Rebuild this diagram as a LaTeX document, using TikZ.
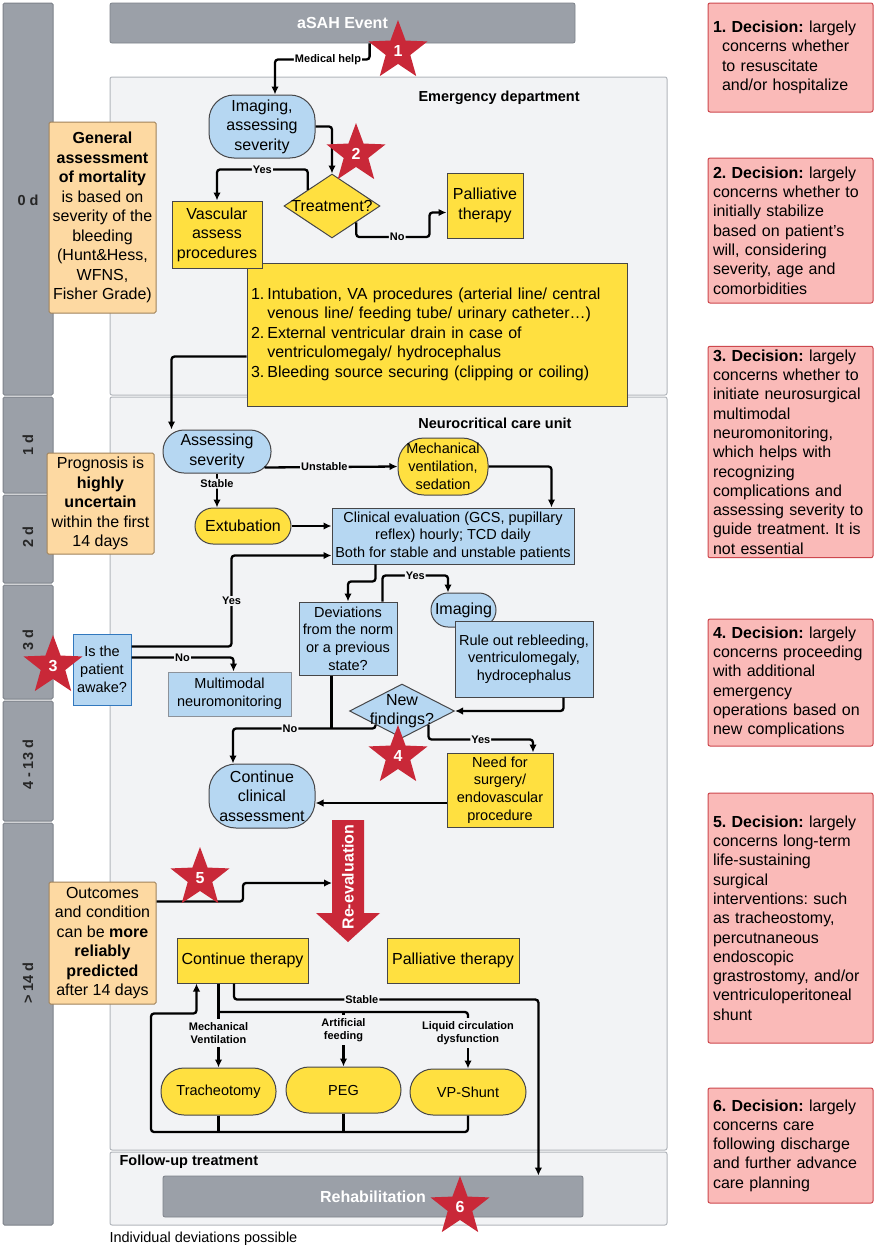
\documentclass[tikz,border=0pt]{standalone}
\usepackage{fontspec}
\setmainfont{Liberation Sans}
\usetikzlibrary{shapes.geometric, arrows.meta, calc, positioning}
\frenchspacing

\definecolor{barGray}{RGB}{155,160,168}
\definecolor{barLine}{RGB}{125,130,138}
\definecolor{panelFill}{RGB}{242,243,245}
\definecolor{panelLine}{RGB}{178,182,188}
\definecolor{boxBlue}{RGB}{182,215,242}
\definecolor{boxYellow}{RGB}{255,224,64}
\definecolor{boxOrange}{RGB}{253,217,162}
\definecolor{orangeLine}{RGB}{160,130,90}
\definecolor{boxPink}{RGB}{250,186,184}
\definecolor{pinkLine}{RGB}{205,72,78}
\definecolor{starRed}{RGB}{201,40,56}
\definecolor{edgeDark}{RGB}{70,70,72}
\definecolor{awakeLine}{RGB}{50,120,190}
\definecolor{multiLine}{RGB}{140,146,154}

\newcommand{\fntMain}{\fontsize{16}{19.5}\selectfont}
\newcommand{\fntSmall}{\fontsize{14.5}{17.7}\selectfont}
\newcommand{\fntLab}{\fontsize{11}{13}\selectfont\bfseries}
\newcommand{\fntHead}{\fontsize{14.5}{17}\selectfont\bfseries}
\newcommand{\fntBar}{\fontsize{16}{19}\selectfont\bfseries}
\newcommand{\fntDec}{\fontsize{16}{19.3}\selectfont}

\begin{document}
\begin{tikzpicture}[x=1pt, y=-1pt,
  conn/.style={line width=2.3pt, rounded corners=3pt},
  arr/.style={conn, -{Latex[length=8pt, width=7.5pt]}},
  lab/.style={font=\fntLab, fill=panelFill, inner sep=1pt},
  bluebox/.style={draw=edgeDark, fill=boxBlue, line width=1pt, align=center, font=\fntSmall, inner sep=1pt},
  yellowbox/.style={draw=edgeDark, fill=boxYellow, line width=1pt, align=center, font=\fntMain, inner sep=1pt},
  notebox/.style={draw=orangeLine, fill=boxOrange, line width=1pt, align=center, font=\fntMain, inner sep=1pt, rounded corners=1.5pt},
  decbox/.style={draw=pinkLine, fill=boxPink, line width=1pt, align=left, font=\fntDec, text width=155pt, inner xsep=5pt, minimum width=165pt, rounded corners=2pt},
  decision/.style={diamond, draw=edgeDark, line width=1pt, inner sep=0pt},
  decstar/.style={star, star points=5, star point ratio=2.4, fill=starRed, minimum size=62pt, inner sep=0pt, text=white, font=\fntBar},
  panel/.style={draw=panelLine, fill=panelFill, line width=1pt, rounded corners=2pt},
  graybar/.style={fill=barGray, draw=barLine, line width=0.8pt, rounded corners=2pt, text=white, font=\fntBar},
  dayseg/.style={fill=barGray, draw=barLine, line width=1pt, rounded corners=1.5pt},
  daylab/.style={font=\fntHead, text=black!85}]

\useasboundingbox (0,0) rectangle (878,1250);
\fill[white] (0,0) rectangle (878,1250);

% time line on the left
\foreach \ya/\yb in {3/395, 397/493, 495/583, 585/699, 701/821, 823/1225}
  \draw[dayseg] (3,\ya) rectangle (53,\yb);
\node[daylab] (t0) at (28,200) {0 d};
\node[daylab, rotate=90] (t1) at (28,445) {1 d};
\node[daylab, rotate=90] (t2) at (28,537) {2 d};
\node[daylab, rotate=90] (t3) at (28,640) {3 d};
\node[daylab, rotate=90] (t4) at (28,765) {4 - 13 d};
\node[daylab, rotate=90] (t5) at (28,983) {> 14 d};

% panels
\draw[panel] (110,77) rectangle (667,395);
\draw[panel] (110,397) rectangle (667,1150);
\draw[panel] (110,1152) rectangle (667,1225);
\node[font=\fntHead, anchor=west] (ed) at (415,98) {Emergency department};
\node[font=\fntHead] (ncu) at (495,423) {Neurocritical care unit};
\node[font=\fntHead, anchor=west] (fu) at (116,1162) {Follow-up treatment};
\node[font=\fntSmall, anchor=west] (note) at (106,1239) {Individual deviations possible};

\node[graybar, minimum width=465, minimum height=40] (asah) at (342.5,23) {aSAH Event};
\node[graybar, minimum width=420, minimum height=41] (rehab) at (373,1196.5) {Rehabilitation};

% emergency department
\node[bluebox, font=\fntMain, minimum width=106, minimum height=63, rounded corners=25pt] (img) at (262,126.5) {Imaging,\\assessing\\severity};
\node[decision, fill=boxYellow, minimum width=96, minimum height=64,
  label={[font=\fntMain]center:Treatment?}] (treat) at (332,206) {};
\node[yellowbox, minimum width=76, minimum height=65] (pall1) at (485,205.5) {Palliative\\therapy};
\node[yellowbox, text width=372, minimum height=143, align=left, inner sep=4pt] (list) at (437,334.5)
  {\begin{tabular}{@{}l@{\hspace{3pt}}l@{}}
   1.& Intubation, VA procedures (arterial line/ central\\
     & venous line/ feeding tube/ urinary catheter…)\\
   2.& External ventricular drain in case of\\
     & ventriculomegaly/ hydrocephalus\\
   3.& Bleeding source securing (clipping or coiling)
   \end{tabular}};
\node[yellowbox, minimum width=90, minimum height=67] (vasc) at (217,234.5) {Vascular\\assess\\procedures};
\node[notebox, minimum width=107, minimum height=191] (gen) at (102.5,217.5)
  {\textbf{General}\\\textbf{assessment}\\\textbf{of mortality}\\is based on\\severity of the\\bleeding\\(Hunt\&Hess,\\WFNS,\\Fisher Grade)};

% neurocritical care unit
\node[bluebox, font=\fntMain, minimum width=108, minimum height=43, rounded corners=21pt] (asev) at (217,451.5) {Assessing\\severity};
\node[yellowbox, font=\fntSmall, minimum width=90, minimum height=57, rounded corners=26pt] (mech) at (443,466.5) {Mechanical\\ventilation,\\sedation};
\node[yellowbox, minimum width=96, minimum height=36, rounded corners=18pt] (extu) at (243,526) {Extubation};
\node[bluebox, minimum width=242, minimum height=56] (clin) at (453,536)
  {Clinical evaluation (GCS, pupillary\\reflex) hourly; TCD daily\\Both for stable and unstable patients};
\node[notebox, minimum width=107, minimum height=101] (prog) at (100.5,503.5)
  {Prognosis is\\\textbf{highly}\\\textbf{uncertain}\\within the first\\14 days};
\node[bluebox, draw=awakeLine, minimum width=58, minimum height=71] (awake) at (102,669.5) {Is the\\patient\\awake?};
\node[bluebox, draw=multiLine, minimum width=123, minimum height=44] (multi) at (229.5,694) {Multimodal\\neuromonitoring};
\node[bluebox, minimum width=98, minimum height=73] (dev) at (348,638.5) {Deviations\\from the norm\\or a previous\\state?};
\node[bluebox, font=\fntMain, minimum width=65, minimum height=34, rounded corners=17pt] (img2) at (463.5,610) {Imaging};
\node[bluebox, minimum width=138, minimum height=76] (rule) at (524,659) {Rule out rebleeding,\\ventriculomegaly,\\hydrocephalus};
\node[decision, fill=boxBlue, minimum width=105, minimum height=54,
  label={[font=\fntMain, align=center]center:{New\\findings?}}] (newf) at (402,711) {};
\node[yellowbox, font=\fntSmall, minimum width=106, minimum height=74] (need) at (500,790) {Need for\\surgery/\\endovascular\\procedure};
\node[bluebox, font=\fntMain, minimum width=106, minimum height=64, rounded corners=27pt] (cont) at (262,796) {Continue\\clinical\\assessment};

% re-evaluation arrow
\fill[starRed] (332,820) -- (364,820) -- (364,913) -- (380,913) -- (348,942) -- (316,913) -- (332,913) -- cycle;
\node[rotate=90, text=white, font=\fntBar] (reeval) at (348,877) {Re-evaluation};
\coordinate (reevalin) at (332,883);

\node[notebox, minimum width=107, minimum height=122] (outc) at (102.5,943)
  {Outcomes\\and condition\\can be \textbf{more}\\\textbf{reliably}\\\textbf{predicted}\\after 14 days};
\node[yellowbox, minimum width=131, minimum height=45] (ctherapy) at (242.5,960.5) {Continue therapy};
\node[yellowbox, minimum width=132, minimum height=45] (pall2) at (453,960.5) {Palliative therapy};
\node[yellowbox, font=\fntSmall, minimum width=115, minimum height=47, rounded corners=23pt] (tracheo) at (218.5,1091.5) {Tracheotomy};
\node[yellowbox, font=\fntSmall, minimum width=115, minimum height=46, rounded corners=23pt] (peg) at (343.5,1090) {PEG};
\node[yellowbox, font=\fntSmall, minimum width=116, minimum height=46, rounded corners=23pt] (vp) at (468,1092) {VP-Shunt};
\node[font=\fntLab, align=center] (mvlab) at (218.5,1033) {Mechanical\\Ventilation};
\node[font=\fntLab, align=center] (aflab) at (343.5,1030) {Artificial\\feeding};
\node[font=\fntLab, align=center] (lclab) at (468,1033) {Liquid circulation\\dysfunction};
\coordinate (bustop) at (0,1012);
\coordinate (busbot) at (0,1132);
\coordinate (loopcorner) at (151,1132);

% decisions on the right
\node[decbox, minimum height=109] (dec1) at (790.5,57.5)
  {\textbf{1.\ Decision:} largely\\\hspace*{9pt}concerns whether\\\hspace*{9pt}to resuscitate\\\hspace*{9pt}and/or hospitalize};
\node[decbox, minimum height=145] (dec2) at (790.5,230.5)
  {\textbf{2. Decision:} largely\\concerns whether to\\initially stabilize\\based on patient's\\will, considering\\severity, age and\\comorbidities};
\node[decbox, minimum height=200] (dec3) at (790.5,452)
  {\textbf{3. Decision:} largely\\concerns whether to\\initiate neurosurgical\\multimodal\\neuromonitoring,\\which helps with\\recognizing\\complications and\\assessing severity to\\guide treatment. It is\\not essential};
\node[decbox, minimum height=127] (dec4) at (790.5,682.5)
  {\textbf{4. Decision:} largely\\concerns proceeding\\with additional\\emergency\\operations based on\\new complications};
\node[decbox, minimum height=250] (dec5) at (790.5,918)
  {\textbf{5. Decision:} largely\\concerns long-term\\life-sustaining\\surgical\\interventions: such\\as tracheostomy,\\percutnaneous\\endoscopic\\grastrostomy, and/or\\ventriculoperitoneal\\shunt};
\node[decbox, minimum height=115] (dec6) at (790.5,1145.5)
  {\textbf{6. Decision:} largely\\concerns care\\following discharge\\and further advance\\care planning};

% connectors
\draw[arr] ($(asah.south west)+(260,0)$) |- node[lab, fill=white, pos=0.72] {Medical help} ($(img.north)+(13,-35)$) -- ($(img.north)+(13,0)$);
\draw[arr] (img.east) -| (treat.north);
\draw[arr] (treat.north west) |- node[lab, pos=0.75] {Yes} ($(vasc.north)+(0,-31)$) -- (vasc.north);
\draw[arr] (treat.south east) |- node[lab, pos=0.78] {No} ($(pall1.west)+(-17,31.5)$) |- ($(pall1.west)+(0,7)$);
\draw[arr] ($(list.west)+(0,22)$) -| ($(asev.north west)+(9,0)$);
\draw[arr] ($(asev.south east)+(-7,-6)$) -- node[lab, pos=0.45] {Unstable} (mech.west);
\draw[arr] (asev.south) -- node[lab, pos=0.3] {Stable} (asev.south |- extu.north);
\draw[arr] (extu.east) -- (extu.east -| clin.west);
\draw[arr] (mech.east) -| ($(clin.north east)+(-23,0)$);
\draw[arr] ($(awake.north east)+(0,13)$) -| node[lab, pos=0.75] {Yes} ($(clin.south west)+(-100,-9)$) -- ($(clin.south west)+(0,-9)$);
\draw[arr] ($(awake.north east)+(0,24)$) -| node[lab, pos=0.25] {No} ($(multi.north)+(4,0)$);
\draw[arr] ($(clin.south west)+(44,0)$) |- ($(dev.north)+(0,-20)$) -- (dev.north);
\draw[arr] ($(dev.north east)+(-15,0)$) |- node[lab, pos=0.75] {Yes} ($(img2.north)+(-15.5,-17)$) -- ($(img2.north)+(-15.5,0)$);
\draw[arr] ($(rule.south east)+(-30,0)$) |- (newf.east);
\coordinate (nojoin) at ($(cont.north)+(-29,-35)$);
\draw[arr] (newf.south west) |- node[lab, pos=0.8] {No} (nojoin) -- ($(cont.north)+(-29,0)$);
\draw[conn] ($(dev.south west)+(33,0)$) coordinate (devout) -- (devout |- nojoin);
\draw[arr] (newf.south east) |- node[lab, pos=0.75] {Yes} ($(need.north)+(33,-13)$) -- ($(need.north)+(33,0)$);
\draw[arr] ($(need.west)+(0,13)$) coordinate (needout) -- (needout -| cont.east);
\draw[arr] ($(outc.north east)+(0,20)$) -| ($(reevalin)+(-89,0)$) -- (reevalin);

\draw[arr] ($(ctherapy.south)+(-8.5,0)$) -- ++(0,16) -| node[lab, pos=0.21] {Stable} ($(rehab.north east)+(-45,0)$);
\draw[conn] (ctherapy.south -| tracheo.north) -- (mvlab.north);
\draw[conn] (bustop -| tracheo.north) -| (lclab.north);
\draw[conn] (bustop -| peg.north) -- (aflab.north);
\draw[arr] (mvlab.south) -- (tracheo.north);
\draw[arr] (aflab.south) -- (peg.north);
\draw[arr] (lclab.south) -- (vp.north);
\draw[conn] (tracheo.south) -- (tracheo.south |- busbot);
\draw[conn] (peg.south) -- (peg.south |- busbot);
\draw[arr] (vp.south) |- (loopcorner) |- ($(ctherapy.south west)+(20,30)$) -- ($(ctherapy.south west)+(20,0)$);

% decision stars
\node[decstar] (s1) at (398,51) {1};
\node[decstar] (s2) at (356,154) {2};
\node[decstar] (s3) at (53,666) {3};
\node[decstar] (s4) at (398,756) {4};
\node[decstar] (s5) at (200,878) {5};
\node[decstar] (s6) at (460,1207) {6};

\end{tikzpicture}
\end{document}
